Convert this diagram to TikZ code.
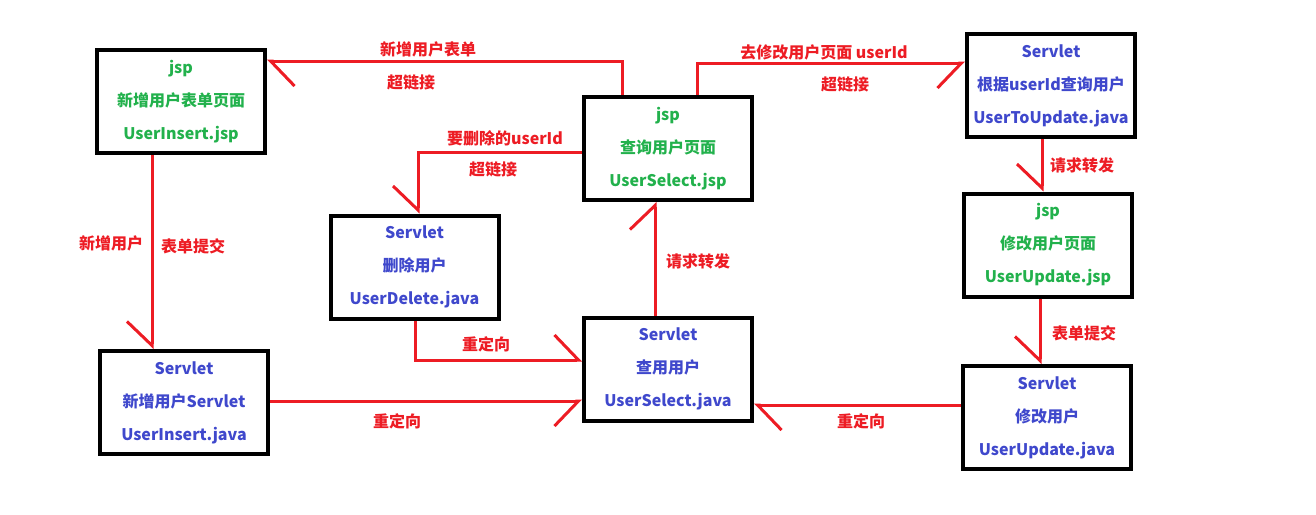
\documentclass[tikz,border=0pt]{standalone}
\usepackage{fontspec}
\setmainfont{Noto Sans CJK SC}
\usetikzlibrary{arrows.meta}
\definecolor{jspgreen}{RGB}{34,177,76}
\definecolor{servblue}{RGB}{63,72,204}
\definecolor{linkred}{RGB}{237,28,36}
\tikzset{
  box/.style={draw=black,line width=4pt,minimum width=168pt,minimum height=103pt,
    inner sep=0pt,align=center,font=\fontsize{16}{33}\selectfont\bfseries},
  jspbox/.style={box,text=jspgreen},
  servbox/.style={box,text=servblue},
  flow/.style={draw=linkred,line width=3pt},
  lbl/.style={text=linkred,inner sep=0pt,font=\fontsize{16}{20}\selectfont\bfseries},
  hl/.style={-{Straight Barb[harpoon,length=24pt,width=50pt]}},
  hr/.style={-{Straight Barb[harpoon,swap,length=24pt,width=50pt]}},
}

\begin{document}
\begin{tikzpicture}[x=1pt,y=-1pt]
                      \useasboundingbox (0,0) rectangle (1316,514);
                      \node[jspbox] (insjsp) at (181,101.5) {jsp\\新增用户表单页面\\UserInsert.jsp};
                      \node[servbox] (insjava) at (184,402.5) {Servlet\\新增用户Servlet\\UserInsert.java};
                      \node[servbox] (deljava) at (414.5,267) {Servlet\\删除用户\\UserDelete.java};
                      \node[jspbox] (seljsp) at (668,148.5) {jsp\\查询用户页面\\UserSelect.jsp};
                      \node[servbox] (seljava) at (668,369) {Servlet\\查用用户\\UserSelect.java};
                      \node[servbox] (toupd) at (1051,85.5) {Servlet\\根据userId查询用户\\UserToUpdate.java};
                      \node[jspbox] (updjsp) at (1048,245) {jsp\\修改用户页面\\UserUpdate.jsp};
                      \node[servbox] (updjava) at (1047,417.5) {Servlet\\修改用户\\UserUpdate.java};
                      \draw[flow,hl] ([xshift=-46pt]seljsp.north) |- ([yshift=-13pt]insjsp.north east);
                      \draw[flow,hr] ([yshift=-3.5pt]seljsp.west) -| ([xshift=3.5pt]deljava.north);
                      \draw[flow,hr] ([xshift=29pt]seljsp.north) |- ([yshift=-31pt]toupd.north west);
                      \draw[flow,hr] ([xshift=-29pt]insjsp.south) -- ([xshift=-29pt]insjsp.south |- insjava.north);
                      \draw[flow,hl] ([xshift=0.5pt]deljava.south) |- ([yshift=9pt]seljava.west);
                      \draw[flow,hr] ([yshift=1.5pt]insjava.east) -- ([yshift=1.5pt]insjava.east -| seljava.west);
                      \draw[flow,hl] ([xshift=-13pt]seljava.north) -- ([xshift=-13pt]seljava.north |- seljsp.south);
                      \draw[flow,hr] ([xshift=-9pt]toupd.south) -- ([xshift=-9pt]toupd.south |- updjsp.north);
                      \draw[flow,hr] ([xshift=-8pt]updjsp.south) -- ([xshift=-8pt]updjsp.south |- updjava.north);
                      \draw[flow,hl] ([yshift=12.5pt]updjava.west) -- ([yshift=12.5pt]updjava.west -| seljava.east);
                      \node[lbl] (l1a) at (428,49) {新增用户表单};
                      \node[lbl] (l1b) at (411,82) {超链接};
                      \node[lbl] (l2a) at (505,138) {要删除的userId};
                      \node[lbl] (l2b) at (493,169) {超链接};
                      \node[lbl] (l3a) at (824,52) {去修改用户页面 userId};
                      \node[lbl] (l3b) at (845,84) {超链接};
                      \node[lbl] (l4a) at (111,243) {新增用户};
                      \node[lbl] (l4b) at (193,246) {表单提交};
                      \node[lbl] (l5) at (486,344) {重定向};
                      \node[lbl] (l6) at (397,421) {重定向};
                      \node[lbl] (l7) at (698,261) {请求转发};
                      \node[lbl] (l8) at (1082,165) {请求转发};
                      \node[lbl] (l9) at (1084,333) {表单提交};
                      \node[lbl] (l10) at (861,421) {重定向};
                  \end{tikzpicture}
\end{document}
